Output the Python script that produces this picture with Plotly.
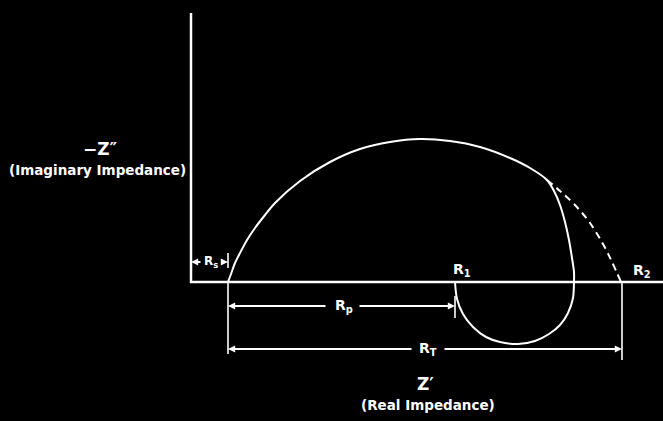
import plotly.graph_objects as go

# Nyquist-style impedance sketch (arbitrary units, origin at the axis corner)
R_S = 37      # solution resistance
R_1 = 264     # low-frequency intercept of the inductive loop
R_2 = 430     # intercept of the extrapolated capacitive arc
R_T = 431     # total span marked below the axis

# main capacitive arc, continuing into the inductive loop
arc_x = [37, 40, 44, 49, 56, 64, 74, 84, 109, 139, 169, 199, 229, 259, 289, 319, 339, 356,
         363, 369, 374, 378, 381, 383, 383,
         382, 377, 369, 358, 344, 327, 309, 295, 282, 272, 266, 264]
arc_y = [0, 8, 19, 29, 42, 54, 67, 79, 101, 120, 133, 140, 143, 141, 135, 124, 114, 102,
         91, 77, 60, 42, 24, 10, 0,
         -16, -31, -43, -52, -59, -62, -60, -55, -45, -32, -17, 0]

# extrapolated arc down to R2 (dashed)
ext_x = [356, 369, 384, 399, 412, 421, 430]
ext_y = [102, 91, 77, 59, 38, 20, 0]

# axes
vaxis_top = 269
haxis_right = 472

# dimension lines: (left end, right end, height, label gap left, label gap right)
dim_rs = (0, R_S, 20, 11, 29)
dim_rp = (R_S, R_1, -24, 136, 167)
dim_rt = (R_S, R_T, -67, 222, 252)

FONT = "DejaVu Sans, Verdana, sans-serif"
WHITE = "white"

fig = go.Figure()

# axes
fig.add_trace(go.Scatter(x=[0, 0, haxis_right], y=[vaxis_top, 0, 0], mode="lines",
                         line=dict(color=WHITE, width=2.5), hoverinfo="skip"))

fig.add_trace(go.Scatter(x=arc_x, y=arc_y, mode="lines", line_shape="spline",
                         line=dict(color=WHITE, width=2, smoothing=0.8), hoverinfo="skip"))
fig.add_trace(go.Scatter(x=ext_x, y=ext_y, mode="lines", line_shape="spline",
                         line=dict(color=WHITE, width=2, dash="7px,5px"), hoverinfo="skip"))

# extension lines for the dimensions
ext_lines = [
    ([R_S, R_S], [29, 14]),
    ([R_S, R_S], [0, -72]),
    ([R_1, R_1], [-14, -36]),
    ([R_T, R_T], [0, -78]),
]
for xs, ys in ext_lines:
    fig.add_trace(go.Scatter(x=xs, y=ys, mode="lines", line=dict(color=WHITE, width=1.6),
                             hoverinfo="skip"))

# dimension arrows (two half-lines pointing outwards from the label)
for left, right, yv, gl, gr in (dim_rs, dim_rp, dim_rt):
    for tip, tail in ((left, gl), (right, gr)):
        fig.add_annotation(x=tip, y=yv, ax=tail, ay=yv, xref="x", yref="y",
                           axref="x", ayref="y", text="", showarrow=True,
                           arrowhead=2, arrowsize=0.8, arrowwidth=1.8, arrowcolor=WHITE)

labels = [
    (20, 20, "<b>R<sub>s</sub></b>", 12),
    (153, -24, "<b>R<sub>p</sub></b>", 14),
    (237, -67, "<b>R<sub>T</sub></b>", 14),
    (271, 12, "<b>R<sub>1</sub></b>", 14),
    (451, 11, "<b>R<sub>2</sub></b>", 14),
    (-91, 133, "<b>\u2212Z\u2033</b>", 17),
    (-94, 112, "<b>(Imaginary Impedance)</b>", 13.5),
    (234, -102, "<b>Z\u2032</b>", 17),
    (237, -123, "<b>(Real Impedance)</b>", 13.5),
]
for lx, ly, txt, size in labels:
    fig.add_annotation(x=lx, y=ly, xref="x", yref="y", text=txt, showarrow=False,
                       font=dict(family=FONT, size=size, color=WHITE))

fig.update_layout(
    width=663, height=421,
    margin=dict(l=0, r=0, t=0, b=0),
    paper_bgcolor="black", plot_bgcolor="black",
    showlegend=False,
    xaxis=dict(range=[-191, 472], visible=False, fixedrange=True),
    yaxis=dict(range=[-139, 282], visible=False, fixedrange=True),
)

fig.write_html("out.html")
